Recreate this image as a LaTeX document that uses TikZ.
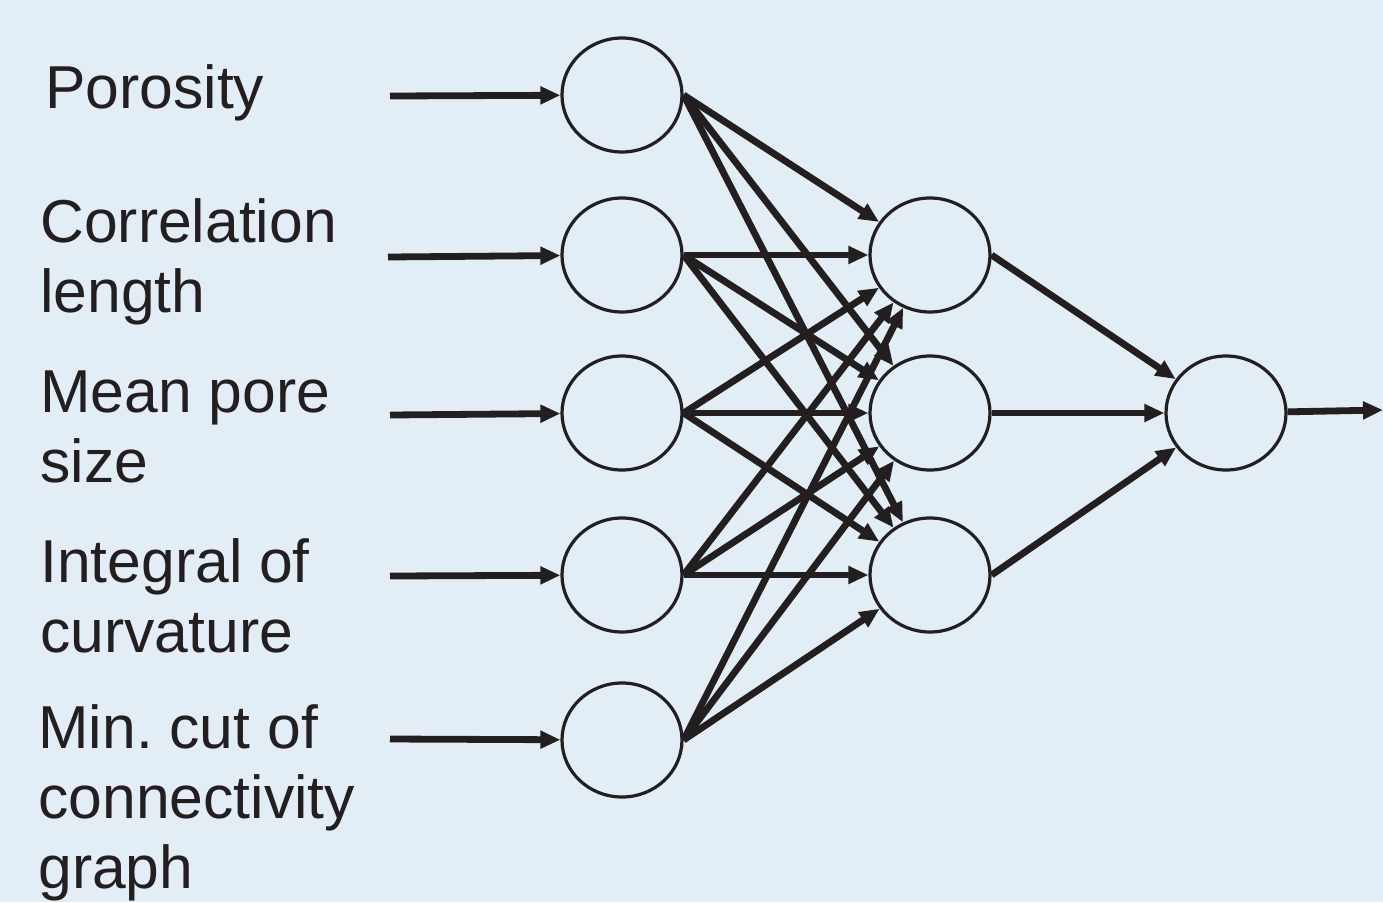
\documentclass[tikz,border=0pt]{standalone}
\usepackage{fontspec}
\setmainfont{Liberation Sans}
\usetikzlibrary{arrows.meta,shapes.geometric}
\definecolor{bgblue}{RGB}{227,237,246}
\definecolor{ink}{RGB}{35,31,32}
\frenchspacing
\begin{document}
\begin{tikzpicture}[x=0.5pt,y=-0.5pt,
  neuron/.style={ellipse,draw=ink,line width=1.6pt,minimum width=60pt,minimum height=57pt,inner sep=0pt},
  conn/.style={draw=ink,line width=3.4pt,-{Triangle[length=10pt,width=8.5pt]}},
  lab/.style={anchor=base west,align=left,inner sep=0pt,text=ink,font=\fontsize{30.3}{35}\selectfont}]
\fill[bgblue] (0,0) rectangle (1383,902);
\useasboundingbox (0,0) rectangle (1383,902);
% input layer
\node[neuron] (i1) at (622,95) {};
\node[neuron] (i2) at (622,255) {};
\node[neuron] (i3) at (622,413) {};
\node[neuron] (i4) at (622,575) {};
\node[neuron] (i5) at (622,740) {};
% hidden layer
\node[neuron] (h1) at (930,255) {};
\node[neuron] (h2) at (930,413) {};
\node[neuron] (h3) at (930,575) {};
% output
\node[neuron] (o) at (1226,413) {};
% labels (anchored at baseline of last line)
\node[lab] (l1) at (45,108) {Porosity};
\node[lab] (l2) at (40,312) {Correlation\\length};
\node[lab] (l3) at (40,482) {Mean pore\\size};
\node[lab] (l4) at (40,652) {Integral of\\curvature};
\node[lab] (l5) at (38,888) {Min. cut of\\connectivity\\graph};
% input arrows
\coordinate (s1) at (390,96);
\coordinate (s2) at (388,257);
\coordinate (s3) at (390,415);
\coordinate (s4) at (390,576);
\coordinate (s5) at (390,739);
\foreach \k in {1,...,5} {\draw[conn] (s\k) -- (i\k);}
% input to hidden
\foreach \a in {1,...,5} {
  \foreach \b in {1,2,3} {
    \draw[conn] (i\a.east) -- (h\b);
  }
}
% hidden to output
\foreach \b in {1,2,3} {\draw[conn] (h\b.east) -- (o);}
\coordinate (e) at (1383,410);
\draw[conn] (o) -- (e);
\end{tikzpicture}
\end{document}
